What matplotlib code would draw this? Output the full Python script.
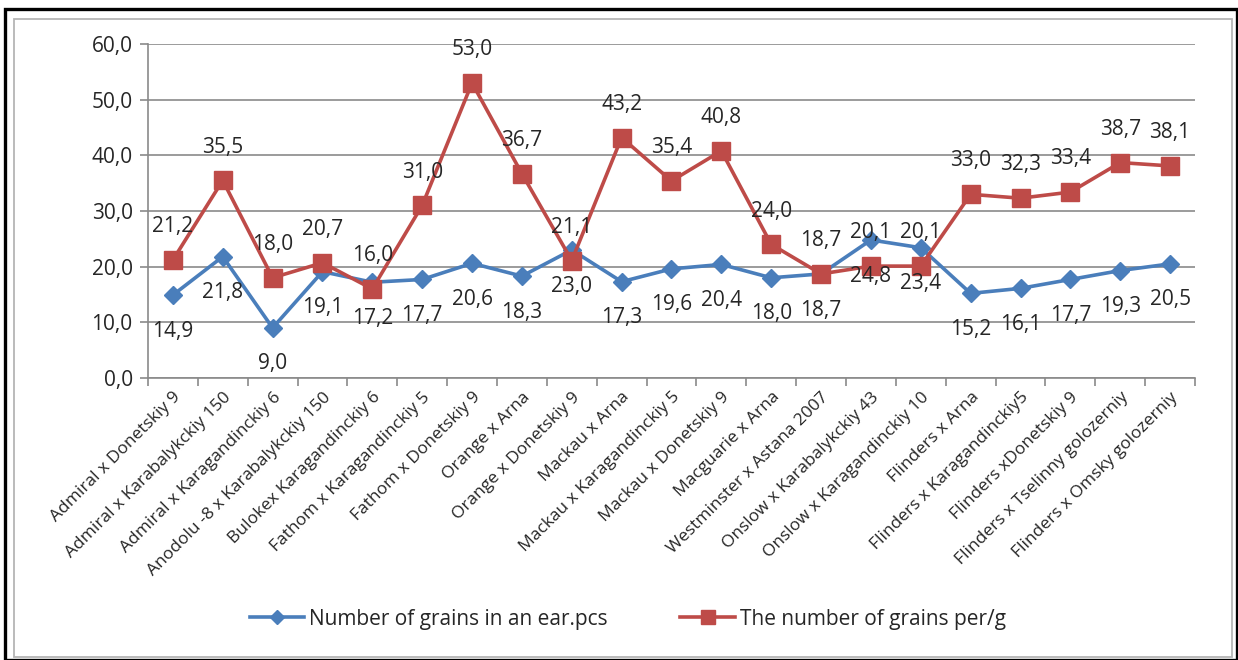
"""
Grain count per ear and grains per gram for wheat hybrid combinations.
Output: out.png
"""
import matplotlib
matplotlib.use("Agg")
import matplotlib.pyplot as plt
from matplotlib.patches import Rectangle
from matplotlib.lines import Line2D

HYBRIDS = [
    "Admiral x Donetskiy 9",
    "Admiral x Karabalykckiy 150",
    "Admiral x Karagandinckiy 6",
    "Anodolu -8 x Karabalykckiy 150",
    "Bulokex Karagandinckiy 6",
    "Fathom x Karagandinckiy 5",
    "Fathom x Donetskiy 9",
    "Orange x Arna",
    "Orange x Donetskiy 9",
    "Mackau x Arna",
    "Mackau x Karagandinckiy 5",
    "Mackau x Donetskiy 9",
    "Macguarie x Arna",
    "Westminster x Astana 2007",
    "Onslow x Karabalykckiy 43",
    "Onslow x Karagandinckiy 10",
    "Flinders x Arna",
    "Flinders x Karagandinckiy5",
    "Flinders xDonetskiy 9",
    "Flinders x Tselinny golozerniy",
    "Flinders x Omsky golozerniy",
]
grains_per_ear = [14.9, 21.8, 9.0, 19.1, 17.2, 17.7, 20.6, 18.3, 23.0, 17.3, 19.6,
                  20.4, 18.0, 18.7, 24.8, 23.4, 15.2, 16.1, 17.7, 19.3, 20.5]
grains_per_g = [21.2, 35.5, 18.0, 20.7, 16.0, 31.0, 53.0, 36.7, 21.1, 43.2, 35.4,
                40.8, 24.0, 18.7, 20.1, 20.1, 33.0, 32.3, 33.4, 38.7, 38.1]
LEGEND = ["Number of grains in an ear.pcs", "The number of grains per/g"]

BLUE = "#4A7EBB"
RED = "#BE4B48"
GRID = "#8A8A8A"
FONT = "Open Sans"


def fmt(v):
    return f"{v:.1f}".replace(".", ",")


fig = plt.figure(figsize=(12.38, 6.6), dpi=100)
# outer black frame and inner chart-area border
fig.patches.append(Rectangle((0.004, 0.0), 0.995, 0.987, transform=fig.transFigure,
                             fill=False, ec="black", lw=2.4))
fig.patches.append(Rectangle((0.011, 0.005), 0.984, 0.966, transform=fig.transFigure,
                             fill=False, ec="#B5B5B5", lw=1.3))

ax = fig.add_axes([0.1195, 0.4273, 0.8458, 0.506])
x = list(range(len(HYBRIDS)))

ax.plot(x, grains_per_ear, color=BLUE, lw=2.6, marker="D", ms=9, zorder=3)
ax.plot(x, grains_per_g, color=RED, lw=2.6, marker="s", ms=12.5, zorder=3)

for xi, v in zip(x, grains_per_ear):
    ax.annotate(fmt(v), (xi, v), xytext=(0, -26), textcoords="offset points",
                ha="center", va="center", fontsize=15, family=FONT, color="#262626")
for xi, v in zip(x, grains_per_g):
    ax.annotate(fmt(v), (xi, v), xytext=(0, 24), textcoords="offset points",
                ha="center", va="center", fontsize=15, family=FONT, color="#262626")

ax.set_xlim(-0.5, len(HYBRIDS) - 0.5)
ax.set_ylim(0, 60)
ax.set_yticks(range(0, 61, 10))
ax.set_yticklabels([fmt(v) for v in range(0, 61, 10)], family=FONT, fontsize=15,
                   color="#262626")
ax.yaxis.grid(True, color=GRID, lw=1.2)
ax.set_axisbelow(True)

# category ticks sit between categories, labels sit at centres
ax.set_xticks([i - 0.5 for i in range(len(HYBRIDS) + 1)])
ax.set_xticklabels([])
ax.set_xticks(x, minor=True)
ax.set_xticklabels(HYBRIDS, minor=True, rotation=45, ha="right",
                   rotation_mode="anchor", family=FONT, fontsize=12.5, color="#262626")
ax.tick_params(axis="x", which="major", length=6, color=GRID, width=1.2)
ax.tick_params(axis="x", which="minor", length=0, pad=8)
ax.tick_params(axis="y", length=6, color=GRID, width=1.2, pad=5)

for side in ("top", "right"):
    ax.spines[side].set_visible(False)
for side in ("left", "bottom"):
    ax.spines[side].set_color(GRID)
    ax.spines[side].set_linewidth(1.2)

handles = [Line2D([], [], color=BLUE, lw=2.6, marker="D", ms=7),
           Line2D([], [], color=RED, lw=2.6, marker="s", ms=10)]
fig.legend(handles, LEGEND, loc="center", bbox_to_anchor=(0.507, 0.062), ncol=2,
           frameon=False, prop={"family": FONT, "size": 15}, handlelength=2.6,
           handletextpad=0.25, columnspacing=3.5, labelcolor="#262626")

fig.savefig("out.png", dpi=100)
